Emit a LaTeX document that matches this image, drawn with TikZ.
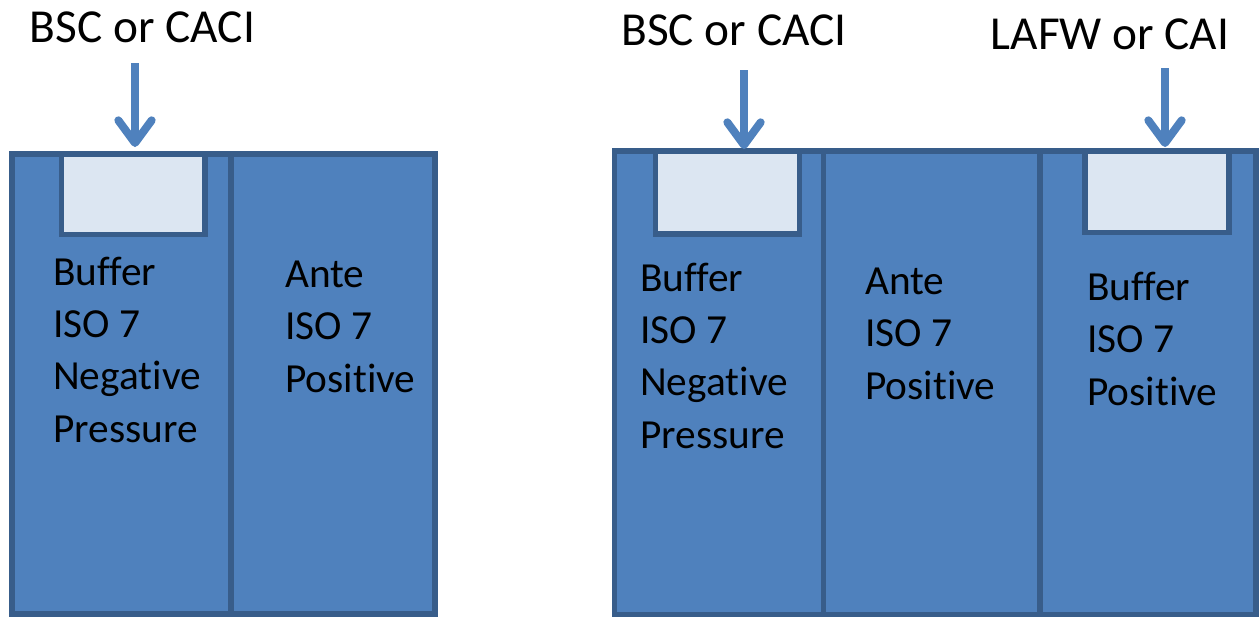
\documentclass[tikz,border=0pt]{standalone}
\usepackage{fontspec}
\setmainfont{Carlito}[Ligatures=NoCommon]
\usetikzlibrary{arrows.meta}
\definecolor{roomblue}{RGB}{79,129,189}
\definecolor{roomedge}{RGB}{56,93,138}
\definecolor{hoodfill}{RGB}{220,230,242}

\begin{document}
\begin{tikzpicture}[x=0.75pt,y=0.75pt,yscale=-1,xscale=1,
  room/.style={draw=roomedge,fill=roomblue,line width=4.2pt},
  hood/.style={draw=roomedge,fill=hoodfill,line width=4.2pt},
  roomtext/.style={anchor=base west,inner sep=0pt,align=left,font=\fontsize{31}{39.2}\selectfont},
  hoodlabel/.style={anchor=base,inner sep=0pt,font=\fontsize{35.5}{42}\selectfont},
  airflow/.style={draw=roomblue,line width=6pt,-{Straight Barb[round,length=17pt,width=25pt]}}]
\useasboundingbox (0,0) rectangle (1260,618);

%Shape: Rectangle [buffer room, left suite]
\draw [room] (12,154) rectangle (231,614) ;
%Shape: Rectangle [ante room, left suite]
\draw [room] (231,154) rectangle (435,614) ;
%Shape: Rectangle [hood in buffer]
\draw [hood] (61.5,154) rectangle (205,234.5) ;

%Shape: Rectangle [buffer room, right suite]
\draw [room] (614.5,151) rectangle (823.5,614.5) ;
%Shape: Rectangle [ante room, right suite]
\draw [room] (823.5,151) rectangle (1040,614.5) ;
%Shape: Rectangle [positive buffer room]
\draw [room] (1040,151) rectangle (1256,614.5) ;
%Shape: Rectangle [hood in negative buffer]
\draw [hood] (655.5,151) rectangle (799.5,234) ;
%Shape: Rectangle [hood in positive buffer]
\draw [hood] (1085,151) rectangle (1229,232.5) ;

% Text Node
\node [hoodlabel] (lblA) at (142.5,42) {BSC or CACI};
% Text Node
\node [hoodlabel] (lblB) at (734,45) {BSC or CACI};
% Text Node
\node [hoodlabel] (lblC) at (1110,49) {LAFW or CAI};

%Straight Lines [air into the hoods]
\coordinate (outA) at (135,63);
\coordinate (inA) at (135,147);
\coordinate (outB) at (744,70);
\coordinate (inB) at (744,149);
\coordinate (outC) at (1165,68);
\coordinate (inC) at (1165,147);
\draw [airflow] (outA) -- (inA) ;
\draw [airflow] (outB) -- (inB) ;
\draw [airflow] (outC) -- (inC) ;

% Text Node (base anchor sits on the last line)
\node [roomtext] (txtA) at (53,442) {Buffer\\ISO 7\\Negative\\Pressure};
% Text Node
\node [roomtext] (txtB) at (285,392) {Ante\\ISO 7\\Positive};
% Text Node
\node [roomtext] (txtC) at (640,448) {Buffer\\ISO 7\\Negative\\Pressure};
% Text Node
\node [roomtext] (txtD) at (865,399) {Ante\\ISO 7\\Positive};
% Text Node
\node [roomtext] (txtE) at (1087,405) {Buffer\\ISO 7\\Positive};

\end{tikzpicture}
\end{document}
